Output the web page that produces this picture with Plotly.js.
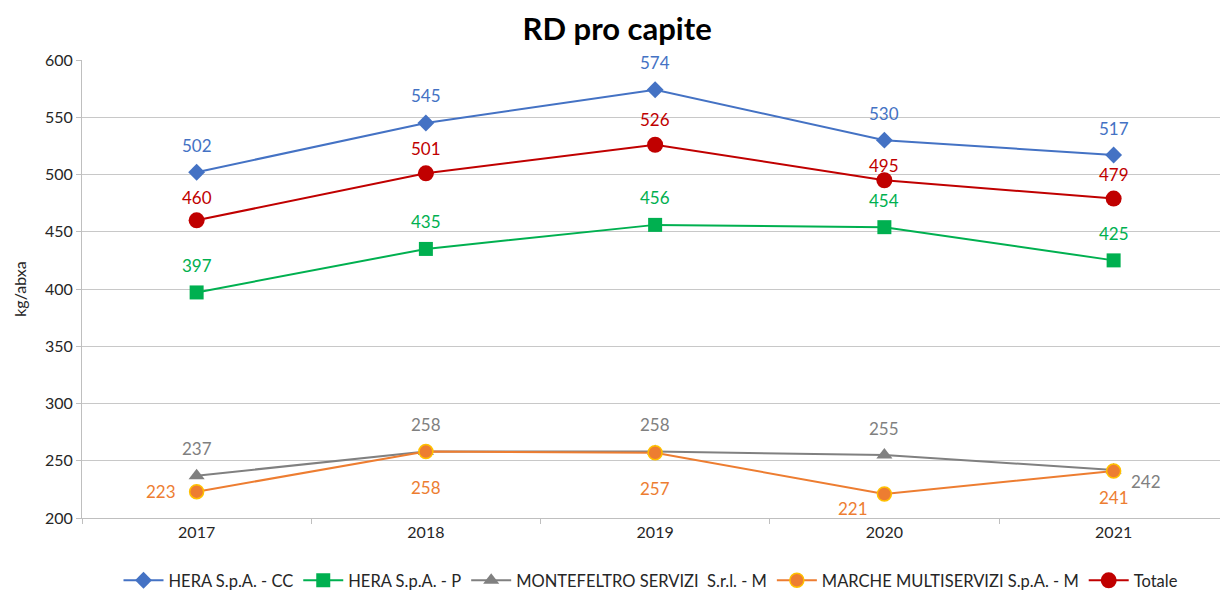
<!DOCTYPE html>
<html>
<head>
<meta charset="utf-8">
<script src="https://cdn.plot.ly/plotly-3.0.1.min.js"></script>
<style>
  html, body { margin: 0; padding: 0; background: #fff; }
  #chart { width: 1222px; height: 590px; }
</style>
</head>
<body>
<div id="chart"></div>
<script>
// dati
const years = ['2017', '2018', '2019', '2020', '2021'];
const heraCC = [502, 545, 574, 530, 517];
const heraP = [397, 435, 456, 454, 425];
const montefeltro = [237, 258, 258, 255, 242];
const marche = [223, 258, 257, 221, 241];
const totale = [460, 501, 526, 495, 479];

// serie: nome, valori, colore, simbolo, posizione etichette
const series = [
  { name: 'HERA S.p.A. - CC', y: heraCC, color: '#4472C4', symbol: 'diamond', size: 13,
    lab: [[0, 27], [0, 27], [0, 27], [0, 27], [0, 27]] },
  { name: 'HERA S.p.A. - P', y: heraP, color: '#00B050', symbol: 'square', size: 14,
    lab: [[0, 27], [0, 27], [0, 27], [0, 27], [0, 27]] },
  { name: 'MONTEFELTRO SERVIZI  S.r.l. - M', y: montefeltro, color: '#808080', symbol: 'triangle-up', size: 14,
    lab: [[0, 27], [0, 27], [0, 27], [0, 27], [32, -12]] },
  { name: 'MARCHE MULTISERVIZI S.p.A. - M', y: marche, color: '#ED7D31', symbol: 'circle', size: 14, line2: '#FFC000',
    lab: [[-36, 0], [0, -36], [0, -36], [-31, -15], [0, -26]] },
  { name: 'Totale', y: totale, color: '#C00000', symbol: 'circle', size: 16,
    lab: [[0, 23], [0, 25], [0, 25], [0, 15], [0, 24]] }
];

const traces = series.map(s => ({
  x: years, y: s.y, name: s.name, type: 'scatter', mode: 'lines+markers',
  line: { color: s.color, width: 2 },
  marker: { color: s.color, symbol: s.symbol, size: s.size,
            line: { color: s.line2 || s.color, width: s.line2 ? 1.5 : 0 } }
}));

// etichette dati: x come indice di categoria
const annotations = [];
series.forEach(s => {
  s.y.forEach((v, i) => {
    annotations.push({
      xref: 'x', yref: 'y', x: i, y: v, text: String(v), showarrow: false,
      xshift: s.lab[i][0], yshift: s.lab[i][1],
      font: { family: 'Lato, sans-serif', size: 17, color: s.color }
    });
  });
});

const layout = {
  width: 1222, height: 590,
  margin: { l: 82, r: 2, t: 60, b: 72, autoexpand: false },
  paper_bgcolor: '#fff', plot_bgcolor: '#fff',
  font: { family: 'Lato, sans-serif', color: '#262626' },
  title: { text: '<b>RD pro capite</b>', x: 0.505, y: 0.95, yanchor: 'middle',
           font: { family: 'Lato, sans-serif', size: 31, color: '#000' } },
  xaxis: {
    type: 'category', range: [-0.5, 4.464],
    showline: true, linecolor: '#bfbfbf', linewidth: 1,
    ticks: 'outside', tickson: 'boundaries', ticklen: 5, tickcolor: '#bfbfbf',
    showgrid: false, tickfont: { size: 16, color: '#262626' }
  },
  yaxis: {
    range: [200, 600], dtick: 50,
    showline: true, linecolor: '#bfbfbf', linewidth: 1,
    ticks: 'outside', ticklen: 5, tickcolor: '#bfbfbf',
    gridcolor: '#c8c8c8', zeroline: false,
    tickfont: { size: 16, color: '#262626' },
    title: { text: 'kg/abxa', standoff: 14, font: { size: 16, color: '#262626' } }
  },
  legend: {
    orientation: 'h', x: 0.5, xanchor: 'center',
    yref: 'container', y: 0.016, yanchor: 'middle',
    font: { size: 16.5, color: '#262626' }, itemwidth: 40, tracegroupgap: 0
  },
  annotations: annotations,
  showlegend: true
};

Plotly.newPlot('chart', traces, layout, { displayModeBar: false, staticPlot: true });
</script>
</body>
</html>
